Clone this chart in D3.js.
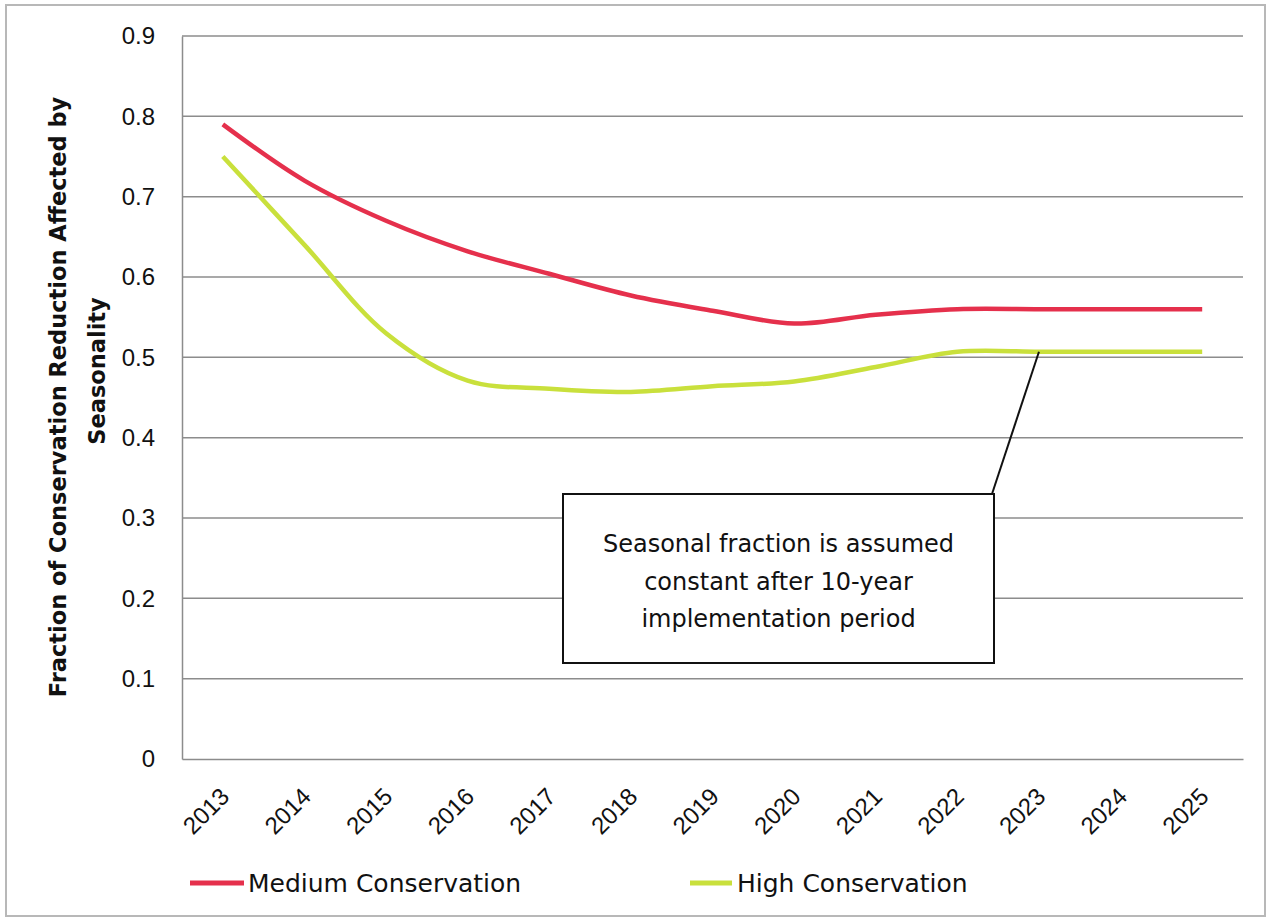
<!DOCTYPE html>
<meta charset="utf-8" />
<title>Seasonality fraction</title>
<style>
  body { margin: 0; background: #fff; }
  svg { display: block; font-family: "DejaVu Sans", sans-serif; }
  .grid line { stroke: #8c8c8c; stroke-width: 1.5px; }
  .tick text { fill: #111; }
</style>
<body>
<svg width="1271" height="924"></svg>
<script src="https://d3js.org/d3.v7.min.js"></script>
<script>
  const years = ["2013","2014","2015","2016","2017","2018","2019","2020","2021","2022","2023","2024","2025"];
  const medium = [0.79, 0.72, 0.67, 0.632, 0.604, 0.577, 0.558, 0.542, 0.553, 0.56, 0.56, 0.56, 0.56];
  const high = [0.75, 0.64, 0.53, 0.471, 0.461, 0.457, 0.464, 0.47, 0.488, 0.507, 0.507, 0.507, 0.507];
  const yTicks = [0, 0.1, 0.2, 0.3, 0.4, 0.5, 0.6, 0.7, 0.8, 0.9];
  const series = [
    { name: "Medium Conservation", values: medium, color: "#e5304c" },
    { name: "High Conservation", values: high, color: "#c9e03c" }
  ];
  const note = ["Seasonal fraction is assumed", "constant after 10-year", "implementation period"];

  const svg = d3.select("svg");
  const m = { left: 182, right: 1243, top: 36, bottom: 759 };

  // outer frame
  svg.append("rect")
    .attr("x", 6).attr("y", 5).attr("width", 1259).attr("height", 911)
    .attr("fill", "none").attr("stroke", "#b8b8b8").attr("stroke-width", 2);

  const x = d3.scaleBand().domain(years).range([m.left, m.right]);
  const y = d3.scaleLinear().domain([0, 0.9]).range([m.bottom, m.top]);
  const cx = d => x(d) + x.bandwidth() / 2;

  // gridlines
  svg.append("g").attr("class", "grid")
    .selectAll("line").data(yTicks.slice(1)).join("line")
    .attr("x1", m.left).attr("x2", m.right)
    .attr("y1", d => y(d)).attr("y2", d => y(d));

  // y axis
  const yAxis = svg.append("g")
    .attr("transform", `translate(${m.left},0)`)
    .call(d3.axisLeft(y).tickValues(yTicks).tickSize(0).tickPadding(27).tickFormat(d => d === 0 ? "0" : d3.format(".1f")(d)));
  yAxis.select(".domain").attr("stroke", "#8c8c8c").attr("stroke-width", 1.5);
  yAxis.selectAll("text").attr("font-size", 24);

  // x axis
  const xAxis = svg.append("g")
    .attr("transform", `translate(0,${m.bottom})`)
    .call(d3.axisBottom(x).tickSize(0).tickPadding(0));
  xAxis.select(".domain").attr("stroke", "#8c8c8c").attr("stroke-width", 1.5);
  xAxis.selectAll("text")
    .attr("font-size", 24)
    .attr("text-anchor", "end")
    .attr("dy", 0)
    .attr("transform", "translate(8,39) rotate(-45)");

  // y title
  const title = svg.append("g").attr("font-weight", "bold").attr("font-size", 22.5).attr("fill", "#111");
  title.append("text")
    .attr("transform", "translate(66,397) rotate(-90)")
    .attr("text-anchor", "middle")
    .text("Fraction of Conservation Reduction Affected by");
  title.append("text")
    .attr("transform", "translate(105,371) rotate(-90)")
    .attr("text-anchor", "middle")
    .text("Seasonality");

  // lines
  const line = d3.line()
    .x((d, i) => cx(years[i]))
    .y(d => y(d))
    .curve(d3.curveCatmullRom);

  svg.append("g").selectAll("path").data(series).join("path")
    .attr("fill", "none")
    .attr("stroke", d => d.color)
    .attr("stroke-width", 4.5)
    .attr("d", d => line(d.values));

  // annotation
  const box = { x: 563, y: 494, w: 431, h: 169 };
  svg.append("line")
    .attr("x1", box.x + box.w - 2).attr("y1", box.y)
    .attr("x2", cx("2023")).attr("y2", y(high[10]))
    .attr("stroke", "#111").attr("stroke-width", 2);
  svg.append("rect")
    .attr("x", box.x).attr("y", box.y).attr("width", box.w).attr("height", box.h)
    .attr("fill", "#fff").attr("stroke", "#111").attr("stroke-width", 2);
  svg.append("g").selectAll("text").data(note).join("text")
    .attr("x", box.x + box.w / 2)
    .attr("y", (d, i) => 552 + i * 37.5)
    .attr("text-anchor", "middle")
    .attr("font-size", 24)
    .attr("fill", "#111")
    .text(d => d);

  // legend
  const legend = svg.append("g").selectAll("g").data(series).join("g")
    .attr("transform", (d, i) => `translate(${i === 0 ? 190 : 690},883)`);
  legend.append("line")
    .attr("x1", 0).attr("x2", (d, i) => i === 0 ? 54 : 42)
    .attr("stroke", d => d.color).attr("stroke-width", 5);
  legend.append("text")
    .attr("x", (d, i) => i === 0 ? 58 : 47)
    .attr("y", 9)
    .attr("font-size", 25)
    .attr("fill", "#111")
    .text(d => d.name);
</script>
</body>
